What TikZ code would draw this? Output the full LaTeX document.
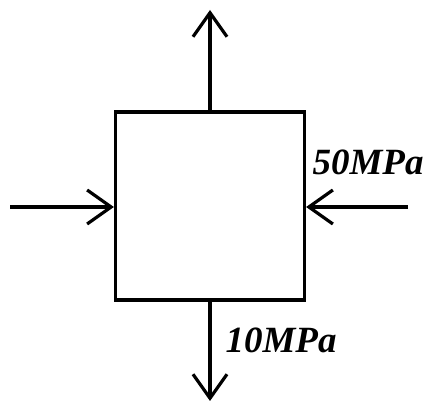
\documentclass[tikz,border=0pt]{standalone}
\usepackage{fontspec}
\setmainfont{Liberation Serif}
\usetikzlibrary{arrows.meta}
\begin{document}
\begin{tikzpicture}[x=1pt,y=1pt,
  line width=3.2pt,
  force/.style={-{Straight Barb[length=24pt,width=34pt,line width=3.2pt]}},
  lbl/.style={font=\fontsize{37}{42}\selectfont\bfseries\itshape, inner sep=0pt, anchor=base west}]
\useasboundingbox (0,0) rectangle (425,403);
\node[draw, line width=3.2pt, minimum width=189pt, minimum height=188pt, inner sep=0pt] (sq) at (210,197) {};
\coordinate (top) at (210,393);
\coordinate (bot) at (210,2);
\coordinate (lft) at (10,196);
\coordinate (rgt) at (408,196);
\draw[force] (sq.north) -- (top);
\draw[force] (sq.south) -- (bot);
\draw[force] (lft) -- (sq.west |- lft);
\draw[force] (rgt) -- (sq.east |- rgt);
\node[lbl] (l50) at (311,228) {50MPa};
\node[lbl] (l10) at (224,50) {10MPa};
\end{tikzpicture}
\end{document}
